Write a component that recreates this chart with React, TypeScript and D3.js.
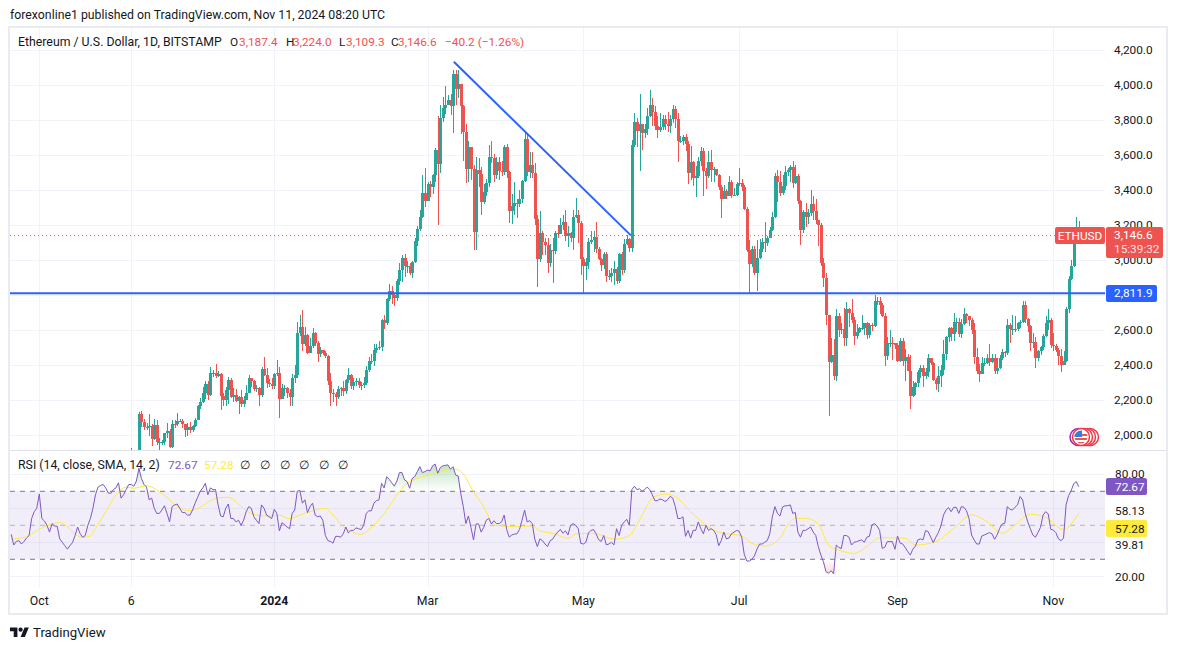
import * as d3 from "d3";
import React from "react";

const WIDTH = 1177;
const HEIGHT = 650;
const FONT = "Roboto, sans-serif";
const UP = "#26a69a";
const DOWN = "#ef5350";
const BLUE = "#2962ff";
const PURPLE = "#7e57c2";
const YELLOW = "#ffeb3b";
const GRID = "#f0f3fa";
const FRAME = "#e8ebf2";

// candles start on 6 Nov 2023, open is the previous close
const closes = [
  1898, 1887, 1887, 2120, 2077, 2050, 2045, 2054, 1978, 2058, 1960, 1960, 1963, 2013, 2022, 1932, 2063, 2062, 2081, 2084, 2063, 2028, 2048, 2029, 2052,
  2088, 2165, 2193, 2242, 2293, 2233, 2358, 2358, 2340, 2352, 2225, 2202, 2260, 2315, 2220, 2228, 2197, 2217, 2177, 2200, 2240, 2325, 2310, 2265, 2272, 2230, 2378, 2345, 2300, 2292, 2281,
  2352, 2355, 2208, 2268, 2268, 2240, 2221, 2330, 2344, 2583, 2619, 2523, 2575, 2472, 2510, 2587, 2528, 2466, 2490, 2470, 2453, 2313, 2240, 2235, 2218, 2267, 2268, 2256, 2316, 2343, 2283,
  2304, 2310, 2289, 2290, 2300, 2372, 2423, 2423, 2486, 2500, 2507, 2660, 2640, 2780, 2825, 2802, 2785, 2880, 2945, 3015, 2970, 2970, 2925, 2990, 3112, 3178, 3245, 3385, 3340,
  3434, 3420, 3490, 3630, 3553, 3815, 3870, 3890, 3915, 3880, 4065, 3980, 4005, 3880, 3735, 3520, 3645, 3520, 3160, 3515, 3492, 3335, 3390, 3440, 3590, 3585, 3490, 3560, 3510, 3505, 3645,
  3505, 3280, 3310, 3330, 3320, 3350, 3455, 3695, 3505, 3545, 3500, 3235, 3005, 3155, 3105, 3085, 2985, 3060, 3055, 3155, 3150, 3200, 3220, 3140, 3155, 3130, 3250, 3260, 3215, 3010,
  2970, 2990, 3105, 3115, 3135, 3065, 3005, 2975, 3035, 2910, 2910, 2930, 2950, 2880, 3035, 2945, 3095, 3120, 3070, 3660, 3790, 3740, 3780, 3725, 3750, 3825, 3890, 3845, 3765, 3745, 3760,
  3810, 3780, 3765, 3810, 3865, 3810, 3680, 3680, 3705, 3665, 3500, 3560, 3470, 3480, 3565, 3625, 3510, 3480, 3560, 3515, 3520, 3490, 3420, 3350, 3395, 3370, 3445, 3375, 3375, 3435,
  3440, 3420, 3295, 3060, 2980, 3065, 2930, 3015, 3065, 3105, 3100, 3130, 3175, 3245, 3480, 3445, 3385, 3425, 3505, 3515, 3535, 3440, 3480, 3340, 3175, 3275, 3245, 3270, 3320, 3280, 3230,
  3200, 2985, 2900, 2685, 2420, 2460, 2340, 2680, 2600, 2610, 2555, 2720, 2700, 2660, 2570, 2590, 2615, 2615, 2640, 2575, 2630, 2625, 2765, 2770, 2745, 2680, 2455, 2530, 2530, 2525, 2515,
  2425, 2540, 2425, 2450, 2370, 2225, 2275, 2300, 2360, 2385, 2340, 2360, 2440, 2415, 2315, 2295, 2340, 2375, 2465, 2560, 2615, 2580, 2650, 2650, 2580, 2635, 2695, 2680, 2660, 2600,
  2450, 2365, 2350, 2415, 2415, 2440, 2420, 2440, 2370, 2385, 2440, 2475, 2470, 2630, 2605, 2610, 2610, 2640, 2645, 2745, 2665, 2625, 2525, 2535, 2440, 2480, 2505, 2570, 2640, 2660, 2515,
  2510, 2490, 2455, 2400, 2425, 2720, 2895, 2965, 3130, 3187.4, 3146.6,
];

const highs = [
  1925, 1898, 1905, 2135, 2140, 2095, 2070, 2120, 2062, 2092, 2090, 1985, 1975, 2015, 2068, 2035, 2090, 2085, 2130, 2095, 2092, 2065, 2070, 2075, 2060,
  2100, 2175, 2215, 2275, 2308, 2310, 2390, 2375, 2405, 2370, 2355, 2240, 2275, 2332, 2330, 2270, 2265, 2225, 2260, 2225, 2285, 2345, 2330, 2315, 2290, 2275, 2390, 2445, 2385, 2320, 2325,
  2355, 2430, 2390, 2295, 2285, 2275, 2265, 2350, 2400, 2645, 2690, 2717, 2620, 2580, 2555, 2615, 2590, 2540, 2505, 2490, 2480, 2460, 2355, 2265, 2245, 2280, 2275, 2310, 2320, 2385, 2350,
  2325, 2325, 2325, 2305, 2335, 2395, 2445, 2465, 2520, 2520, 2538, 2665, 2685, 2785, 2865, 2855, 2805, 2895, 2985, 3030, 3035, 2995, 2985, 2998, 3125, 3195, 3290, 3490, 3525,
  3445, 3455, 3495, 3640, 3825, 3890, 3935, 3998, 3945, 3950, 4085, 4090, 4085, 4010, 3885, 3780, 3680, 3650, 3545, 3590, 3585, 3535, 3435, 3465, 3660, 3680, 3610, 3590, 3590, 3570, 3660,
  3665, 3510, 3380, 3445, 3350, 3400, 3460, 3730, 3720, 3620, 3620, 3555, 3260, 3280, 3170, 3125, 3125, 3095, 3125, 3165, 3200, 3240, 3260, 3290, 3195, 3160, 3285, 3355, 3290, 3225,
  3020, 3015, 3125, 3170, 3170, 3220, 3075, 3015, 3050, 3050, 2945, 2955, 2995, 2960, 3040, 3045, 3120, 3145, 3125, 3690, 3840, 3815, 3950, 3760, 3780, 3870, 3975, 3930, 3880, 3825, 3840,
  3830, 3830, 3850, 3830, 3890, 3880, 3840, 3710, 3715, 3720, 3680, 3655, 3565, 3540, 3590, 3650, 3640, 3530, 3625, 3630, 3535, 3510, 3495, 3430, 3430, 3410, 3480, 3460, 3415, 3445,
  3525, 3465, 3430, 3305, 3115, 3080, 3080, 3115, 3120, 3125, 3220, 3140, 3190, 3275, 3500, 3515, 3510, 3490, 3540, 3530, 3545, 3565, 3545, 3495, 3345, 3285, 3330, 3295, 3400, 3365, 3350,
  3230, 3215, 3015, 2925, 2690, 2555, 2550, 2720, 2700, 2640, 2725, 2760, 2730, 2780, 2675, 2635, 2620, 2690, 2640, 2645, 2640, 2640, 2800, 2790, 2790, 2755, 2700, 2560, 2600, 2560, 2530,
  2530, 2555, 2555, 2495, 2465, 2460, 2310, 2305, 2375, 2400, 2400, 2385, 2465, 2425, 2420, 2330, 2395, 2400, 2545, 2565, 2620, 2620, 2700, 2670, 2670, 2665, 2725, 2700, 2680, 2670,
  2640, 2500, 2405, 2445, 2440, 2465, 2520, 2465, 2465, 2440, 2460, 2495, 2480, 2665, 2640, 2690, 2680, 2650, 2660, 2770, 2765, 2670, 2630, 2585, 2560, 2490, 2510, 2580, 2680, 2720, 2670,
  2585, 2520, 2500, 2495, 2480, 2735, 2910, 3000, 3155, 3250, 3224,
];

const lows = [
  1870, 1860, 1870, 1880, 2045, 2030, 2030, 1995, 1938, 1972, 1943, 1918, 1945, 1945, 1985, 1925, 1925, 2040, 2055, 2075, 2040, 1990, 1995, 2015, 2020,
  2050, 2085, 2150, 2185, 2205, 2200, 2225, 2335, 2330, 2335, 2147, 2170, 2165, 2180, 2215, 2190, 2190, 2120, 2160, 2160, 2200, 2240, 2275, 2255, 2250, 2165, 2220, 2340, 2270, 2275, 2265,
  2265, 2340, 2100, 2205, 2225, 2215, 2165, 2165, 2300, 2330, 2570, 2480, 2512, 2465, 2470, 2500, 2510, 2420, 2445, 2458, 2440, 2290, 2170, 2190, 2170, 2205, 2225, 2225, 2235, 2300, 2265,
  2260, 2280, 2270, 2260, 2270, 2290, 2360, 2405, 2395, 2470, 2485, 2480, 2605, 2630, 2770, 2750, 2740, 2770, 2860, 2875, 2905, 2925, 2915, 2900, 2985, 3080, 3170, 3240, 3305,
  3340, 3360, 3380, 3445, 3200, 3500, 3790, 3835, 3885, 3830, 3730, 3885, 3930, 3720, 3570, 3440, 3450, 3460, 3060, 3060, 3420, 3260, 3320, 3365, 3420, 3555, 3450, 3465, 3460, 3480, 3490,
  3470, 3215, 3210, 3260, 3240, 3305, 3330, 3445, 3480, 3470, 3470, 3200, 2850, 2990, 3030, 3030, 2925, 2960, 2870, 3035, 3130, 3150, 3175, 3110, 3075, 3105, 3060, 3240, 3100, 2915,
  2815, 2885, 2950, 3095, 3045, 3040, 3000, 2940, 2950, 2875, 2890, 2875, 2860, 2865, 2870, 2915, 2930, 3090, 3050, 3045, 3650, 3650, 3510, 3630, 3700, 3715, 3820, 3770, 3745, 3700, 3735,
  3745, 3745, 3735, 3725, 3785, 3755, 3560, 3670, 3660, 3625, 3435, 3460, 3425, 3360, 3470, 3540, 3365, 3405, 3470, 3450, 3445, 3480, 3400, 3240, 3360, 3350, 3365, 3355, 3370, 3365,
  3425, 3395, 3285, 3050, 2815, 2960, 2915, 2825, 3005, 3050, 3050, 3080, 3125, 3170, 3240, 3335, 3370, 3375, 3400, 3480, 3450, 3415, 3435, 3320, 3088, 3155, 3190, 3210, 3255, 3230, 3205,
  3080, 2965, 2850, 2630, 2111, 2415, 2315, 2310, 2560, 2580, 2510, 2510, 2620, 2640, 2515, 2550, 2585, 2600, 2575, 2550, 2555, 2595, 2620, 2745, 2695, 2675, 2396, 2430, 2505, 2430, 2495,
  2420, 2420, 2395, 2310, 2365, 2150, 2220, 2230, 2275, 2330, 2275, 2320, 2335, 2400, 2310, 2260, 2250, 2275, 2345, 2430, 2535, 2540, 2540, 2590, 2560, 2555, 2630, 2640, 2625, 2580,
  2410, 2350, 2305, 2350, 2395, 2405, 2395, 2415, 2350, 2350, 2380, 2430, 2445, 2460, 2530, 2575, 2590, 2595, 2615, 2640, 2640, 2590, 2480, 2500, 2385, 2425, 2460, 2490, 2560, 2600, 2500,
  2480, 2475, 2400, 2364, 2400, 2420, 2700, 2890, 2960, 3120, 3109.3,
];

// RSI starts on 20 Sep 2023
const rsiValues = [
  44.7, 38.4, 40.5, 41, 39, 40.5, 42.5, 44, 54, 58, 60,
  68.4, 54, 52.5, 50, 46, 51, 49.5, 49.5, 42, 40, 38, 36, 38, 39.8, 44, 49, 45, 43, 44, 50, 54, 60, 68, 72.5, 73.5, 74, 72, 69, 68.8, 71, 72,
  75, 66, 68, 71, 74, 74, 73, 76, 83.5, 77.6, 74, 72.5, 65, 66, 60, 57, 57, 59, 61.5, 57, 52, 61, 62, 62.5, 60, 57.5, 57.5, 56, 56, 59,
  63, 66.5, 70, 72, 74.7, 68, 72, 71, 71, 62, 55.5, 55, 60, 62.5, 54, 54, 52, 53, 50, 53, 58, 61, 60, 55, 53, 51, 62, 60, 56, 55, 54,
  59.4, 57, 46.7, 51.5, 50.5, 49, 48, 57, 59, 70, 70.5, 63, 65, 57.5, 61, 63, 56, 55, 55.5, 53, 44, 41, 40.5, 39.5, 43.5, 43.5, 43, 45, 49, 45.5, 47,
  47, 48.5, 48, 47.5, 50, 57, 58.5, 58.5, 63, 64.5, 65, 74.7, 72, 78.6, 77, 75, 73, 76, 81, 81, 76.7, 75.7, 71.8, 77.6, 78.6, 81.6, 84.5, 81, 81.6,
  82.5, 82, 85, 86, 80.6, 84, 85, 85.3, 85.5, 83, 84.5, 79.6, 79, 68.8, 61, 51, 55.5, 48.8, 41.4, 50.8, 50.8, 46, 48.8, 53, 54, 50.8, 52.7, 51, 51, 52, 56,
  47.5, 43, 44.3, 44.8, 45, 47.5, 53, 59, 52, 52.7, 51, 41.8, 37.5, 42, 41, 39, 37.5, 41, 41.8, 44.3, 46, 47.6, 45.3, 46.7, 44.3, 50, 51, 50, 48, 39.4,
  39, 40, 45.5, 47, 47.5, 45, 41.5, 40.5, 44, 38.5, 39, 40, 38.5, 48, 44, 50, 52, 53.5, 50, 71, 73, 71, 71.5, 70, 71, 72.5, 71, 68, 64.5, 64.5, 65.5,
  65, 64, 65, 67, 66, 61, 54, 54, 55, 43.5, 47, 42.5, 47, 47, 52, 48, 45, 50, 47, 48, 47, 44.5, 38, 41, 46, 42, 42.5, 45, 46, 47,
  46.5, 43, 33, 29, 29, 30, 32, 36, 39, 39, 40, 41, 45, 55, 61, 57, 55.5, 60.8, 61.5, 61.5, 62, 57, 57.5, 46, 43, 47, 47, 48, 49, 46, 44,
  37.5, 32.5, 28.6, 22.7, 21.8, 23.3, 21.4, 38.4, 37, 36.3, 44, 44, 43, 38.4, 40, 40.4, 41, 41.4, 40, 43, 43.5, 50.2, 51, 49.6, 47, 36.5, 37, 40.4, 40.4, 40.4, 35.9,
  43.7, 39.6, 39, 37, 34.5, 32.5, 35.9, 37.8, 41.4, 42, 41.4, 46.9, 46.3, 43, 39.8, 43, 45.7, 49.6, 56, 59, 60.4, 58, 60.6, 60.6, 57, 61, 60.6, 58.6, 54, 44.3,
  41.4, 39, 39, 43.7, 44.3, 45, 45.7, 45, 41.8, 44.3, 48.2, 50.8, 51.2, 61, 59.4, 59, 60.6, 62, 66.9, 64.9, 57, 52, 48, 44.3, 43, 45.7, 48.8, 56, 58, 56.7, 47.6,
  47.2, 45.7, 42, 41, 42.4, 62, 67.5, 70.4, 74.5, 75.7, 72.67,
];

// yellow smoothing line, read at its bends: day offset from 1 Oct 2023, value
const smaDays = [
  -11, -8, -4, 0, 4, 8, 11, 14, 17, 20, 22, 26, 30, 34, 37, 42, 46, 50, 54, 59, 63, 67, 71, 74, 77, 81, 85, 90, 94, 98, 102, 106, 112, 115, 119, 123, 126, 129, 135, 141,
  144, 148, 154, 158, 163, 166, 170, 174, 178, 186, 193, 196, 201, 207, 210, 217, 225, 231, 235, 240, 245, 249, 255, 261, 266, 275, 279, 284, 290,
  293, 296, 300, 305, 309, 314, 319, 324, 329, 339, 343, 351, 358, 365, 371, 377, 382, 388, 394, 401, 407,
];
const smaValues = [
  41.8, 42.4, 43.9, 47.8, 50.2, 51.6, 49.2, 44.9, 42.9, 43.7, 48.2, 58, 67.8, 72.4, 71.8, 73.3, 70.8, 66.3, 61, 58.6, 60.6, 64.5, 66.3, 66.5, 63.9, 58.6, 56, 55.5, 56, 53.9, 56, 58, 60, 56, 49.2, 45.9, 44.7, 47.3, 57, 69.8,
  74.7, 77.6, 80.2, 82, 83, 80.2, 69.8, 61, 50.2, 49.2, 49.6, 46.7, 45.3, 42.4, 44.9, 45.3, 41.8, 43.9, 53.1, 65.9, 68.4, 66.9, 58, 50.2, 45.9, 43.7, 39.4, 37.8, 42.4,
  50.2, 54.1, 54.1, 50.8, 38.4, 34.9, 33.5, 37.5, 42.7, 42.4, 38.4, 40.4, 48.2, 56.1, 52.2, 45.3, 50.2, 56.5, 54.7, 47.6, 57.28,
];

const priceTicks = [4200, 4000, 3800, 3600, 3400, 3200, 3000, 2800, 2600, 2400, 2200, 2000];
const rsiGrid = [80, 60, 40, 20];
const rsiLabels = [
  { text: "80.00", y: 474 },
  { text: "58.13", y: 511 },
  { text: "39.81", y: 545 },
  { text: "20.00", y: 577 },
];
const timeTicks = [
  { text: "Oct", date: [2023, 9, 1] },
  { text: "6", date: [2023, 10, 6] },
  { text: "2024", date: [2024, 0, 1], bold: true },
  { text: "Mar", date: [2024, 2, 1] },
  { text: "May", date: [2024, 4, 1] },
  { text: "Jul", date: [2024, 6, 1] },
  { text: "Sep", date: [2024, 8, 1] },
  { text: "Nov", date: [2024, 10, 1] },
];
const trendDays = [162.3, 231.5];
const trendPrices = [4135, 3144];
const supportLevel = 2811.9;
const lastPrice = 3146.6;
const rsiLast = 72.67;
const smaLast = 57.28;

const dayOne = new Date(Date.UTC(2023, 9, 1));
const dayDate = (d: number) => new Date(dayOne.getTime() + d * 86400000);

const x = d3
  .scaleUtc()
  .domain([dayOne, new Date(Date.UTC(2024, 10, 1))])
  .range([39.3, 1053.3]);
const y = d3.scaleLinear().domain([2000, 4200]).range([435.3, 50.3]);
const yRsi = d3.scaleLinear().domain([20, 80]).range([576.3, 474.3]);

const candles = closes.map((c, i) => ({
  date: dayDate(36 + i),
  open: i === 0 ? 1890 : closes[i - 1],
  close: c,
  high: highs[i],
  low: lows[i],
}));
const rsiData = rsiValues.map((v, i) => ({ date: dayDate(i - 11), v }));
const smaData = smaValues.map((v, i) => ({ date: dayDate(smaDays[i]), v }));

const rsiLine = d3
  .line<{ date: Date; v: number }>()
  .x((d) => x(d.date))
  .y((d) => yRsi(d.v));
const smaLine = d3
  .line<{ date: Date; v: number }>()
  .x((d) => x(d.date))
  .y((d) => yRsi(d.v))
  .curve(d3.curveMonotoneX);
const areaTo = (level: number) =>
  d3
    .area<{ date: Date; v: number }>()
    .x((d) => x(d.date))
    .y0(yRsi(level))
    .y1((d) => yRsi(d.v));

const App = () => {
  const fmt = d3.format(",.1f");
  const label = { fontFamily: FONT, fontSize: 12.3, fill: "#131722" };
  const axisLabel = { fontFamily: FONT, fontSize: 11.8, fill: "#131722" };
  const ohlc = [
    { k: "O", kx: 230, v: "3,187.4", vx: 239 },
    { k: "H", kx: 286, v: "3,224.0", vx: 293 },
    { k: "L", kx: 339, v: "3,109.3", vx: 346 },
    { k: "C", kx: 391, v: "3,146.6", vx: 398 },
  ];
  return (
    <svg
      width={WIDTH}
      height={HEIGHT}
      style={{ position: "absolute", left: 0, top: 0, background: "#fff" }}
    >
      <defs>
        <clipPath id="mainClip">
          <rect x={10} y={28} width={1095} height={422} />
        </clipPath>
        <clipPath id="rsiClip">
          <rect x={10} y={451} width={1095} height={136} />
        </clipPath>
        <clipPath id="overClip">
          <rect x={10} y={451} width={1095} height={yRsi(70) - 451} />
        </clipPath>
        <clipPath id="underClip">
          <rect x={10} y={yRsi(30)} width={1095} height={30} />
        </clipPath>
        <clipPath id="flagClip">
          <circle cx={1081} cy={437} r={6.5} />
        </clipPath>
        <linearGradient id="overFill" x1="0" y1={yRsi(86)} x2="0" y2={yRsi(70)} gradientUnits="userSpaceOnUse">
          <stop offset="0" stopColor="#4caf50" stopOpacity={0.35} />
          <stop offset="1" stopColor="#4caf50" stopOpacity={0} />
        </linearGradient>
        <linearGradient id="underFill" x1="0" y1={yRsi(30)} x2="0" y2={yRsi(20)} gradientUnits="userSpaceOnUse">
          <stop offset="0" stopColor="#f23645" stopOpacity={0} />
          <stop offset="1" stopColor="#f23645" stopOpacity={0.25} />
        </linearGradient>
      </defs>

      <text x={10} y={19} {...label}>
        forexonline1 published on TradingView.com, Nov 11, 2024 08:20 UTC
      </text>

      {/* frame and pane divider */}
      <rect x={9} y={27} width={1158} height={587} fill="none" stroke={FRAME} strokeWidth={2} />
      <line x1={10} x2={1166} y1={450.5} y2={450.5} stroke="#e0e3eb" />

      {/* grid */}
      <g shapeRendering="crispEdges" stroke={GRID}>
        {timeTicks.map((t) => {
          const gx = Math.round(x(new Date(Date.UTC(t.date[0], t.date[1], t.date[2]))));
          return (
            <g key={t.text}>
              <line x1={gx} x2={gx} y1={28} y2={450} />
              <line x1={gx} x2={gx} y1={451} y2={587} />
            </g>
          );
        })}
        {priceTicks.map((p) => (
          <line key={p} x1={10} x2={1105} y1={Math.round(y(p))} y2={Math.round(y(p))} />
        ))}
        {rsiGrid.map((p) => (
          <line key={p} x1={10} x2={1105} y1={Math.round(yRsi(p))} y2={Math.round(yRsi(p))} />
        ))}
      </g>

      {/* candles */}
      <g clipPath="url(#mainClip)" shapeRendering="crispEdges">
        {candles.map((d) => {
          const cx = Math.round(x(d.date));
          const color = d.close >= d.open ? UP : DOWN;
          const top = Math.round(y(Math.max(d.open, d.close)));
          const bottom = Math.round(y(Math.min(d.open, d.close)));
          return (
            <g key={d.date.getTime()} fill={color}>
              <rect x={cx} y={y(d.high)} width={1} height={y(d.low) - y(d.high)} />
              <rect x={cx - 1} y={top} width={3} height={Math.max(1, bottom - top)} />
            </g>
          );
        })}
      </g>

      {/* drawn lines */}
      <g clipPath="url(#mainClip)">
        <line
          x1={10}
          x2={1105}
          y1={y(lastPrice) + 1}
          y2={y(lastPrice) + 1}
          stroke={DOWN}
          strokeDasharray="1 3"
        />
        <line x1={10} x2={1105} y1={y(supportLevel)} y2={y(supportLevel)} stroke={BLUE} strokeWidth={2} />
        <line
          x1={x(dayDate(trendDays[0]))}
          x2={x(dayDate(trendDays[1]))}
          y1={y(trendPrices[0])}
          y2={y(trendPrices[1])}
          stroke={BLUE}
          strokeWidth={2}
        />
      </g>

      {/* flag badge */}
      <g fill="#fff">
        <circle cx={1078.5} cy={437} r={8.5} stroke="#9c27b0" strokeWidth={1.5} />
        <circle cx={1090} cy={437} r={8.5} stroke="#f23645" strokeWidth={1.5} />
        <circle cx={1087} cy={437} r={8.5} stroke="#f23645" strokeWidth={1.5} />
        <circle cx={1084} cy={437} r={8.5} stroke="#f23645" strokeWidth={1.5} />
        <circle cx={1081} cy={437} r={8.5} stroke="#f23645" strokeWidth={1.5} />
        <g clipPath="url(#flagClip)">
          <rect x={1074} y={430} width={14} height={14} fill="#fff" />
          <rect x={1074} y={434} width={14} height={2} fill="#ef5350" />
          <rect x={1074} y={438} width={14} height={2} fill="#ef5350" />
          <rect x={1074} y={442} width={14} height={2} fill="#ef5350" />
          <rect x={1074} y={430} width={8} height={7} fill="#2f7fe0" />
        </g>
      </g>

      {/* legend */}
      <text x={18} y={46} {...label}>
        Ethereum / U.S. Dollar, 1D, BITSTAMP
      </text>
      {ohlc.map((o) => (
        <g key={o.k} fontFamily={FONT} fontSize={11.8}>
          <text x={o.kx} y={46} fill="#131722">
            {o.k}
          </text>
          <text x={o.vx} y={46} fill={DOWN}>
            {o.v}
          </text>
        </g>
      ))}
      <text x={445} y={46} fontFamily={FONT} fontSize={11.8} fill={DOWN}>
        −40.2 (−1.26%)
      </text>

      {/* price axis */}
      {priceTicks.map((p) => (
        <text key={p} x={1114} y={y(p) + 4} {...axisLabel}>
          {fmt(p)}
        </text>
      ))}
      <rect x={1055} y={227} width={50} height={17} rx={2} fill={DOWN} />
      <text x={1080} y={240} textAnchor="middle" {...axisLabel} fill="#fff">
        ETHUSD
      </text>
      <rect x={1106} y={227} width={57} height={31} rx={2} fill={DOWN} />
      <text x={1114} y={239} {...axisLabel} fill="#fff">
        {fmt(lastPrice)}
      </text>
      <text x={1114} y={253} {...axisLabel} fill="#fde0e0">
        15:39:32
      </text>
      <rect x={1106} y={285} width={51} height={17} rx={2} fill={BLUE} />
      <text x={1114} y={297} {...axisLabel} fill="#fff">
        {fmt(supportLevel)}
      </text>

      {/* RSI pane */}
      <rect
        x={10}
        y={yRsi(70)}
        width={1095}
        height={yRsi(30) - yRsi(70)}
        fill={PURPLE}
        fillOpacity={0.1}
      />
      <g clipPath="url(#rsiClip)">
        <g clipPath="url(#overClip)">
          <path d={areaTo(70)(rsiData) ?? ""} fill="url(#overFill)" />
        </g>
        <g clipPath="url(#underClip)">
          <path d={areaTo(30)(rsiData) ?? ""} fill="url(#underFill)" />
        </g>
        <line x1={10} x2={1105} y1={yRsi(70)} y2={yRsi(70)} stroke="#787b86" strokeDasharray="5 5" />
        <line
          x1={10}
          x2={1105}
          y1={yRsi(50)}
          y2={yRsi(50)}
          stroke="#787b86"
          strokeOpacity={0.5}
          strokeDasharray="5 5"
        />
        <line x1={10} x2={1105} y1={yRsi(30)} y2={yRsi(30)} stroke="#787b86" strokeDasharray="5 5" />
        <path d={smaLine(smaData) ?? ""} fill="none" stroke={YELLOW} strokeWidth={1} />
        <path d={rsiLine(rsiData) ?? ""} fill="none" stroke={PURPLE} strokeWidth={1} />
      </g>

      <text x={18} y={469} {...label}>
        RSI (14, close, SMA, 14, 2)
      </text>
      <text x={168} y={469} fontFamily={FONT} fontSize={11.8} fill={PURPLE}>
        72.67
      </text>
      <text x={204} y={469} fontFamily={FONT} fontSize={11.8} fill={YELLOW}>
        57.28
      </text>
      {[245, 265, 285, 304, 324, 343].map((nx) => (
        <text key={nx} x={nx} y={469} textAnchor="middle" {...label}>
          ∅
        </text>
      ))}

      {rsiLabels.map((l) => (
        <text key={l.text} x={1115} y={l.y + 4} {...axisLabel}>
          {l.text}
        </text>
      ))}
      <rect x={1106} y={478} width={41} height={17} rx={2} fill={PURPLE} />
      <text x={1115} y={491} {...axisLabel} fill="#fff">
        {rsiLast}
      </text>
      <rect x={1106} y={520} width={41} height={17} rx={2} fill={YELLOW} />
      <text x={1115} y={533} {...axisLabel}>
        {smaLast}
      </text>

      {/* time axis */}
      {timeTicks.map((t) => (
        <text
          key={t.text}
          x={x(new Date(Date.UTC(t.date[0], t.date[1], t.date[2])))}
          y={605}
          textAnchor="middle"
          fontWeight={t.bold ? 700 : 400}
          {...label}
        >
          {t.text}
        </text>
      ))}

      {/* footer logo */}
      <g transform="translate(10,625.4) scale(0.53)" fill="#131722">
        <path d="M14 22H7V11H0V4h14v18zM28 22h-8l7.5-18h8L28 22z" />
        <circle cx={20} cy={8} r={4} />
      </g>
      <text x={33} y={637} fontFamily={FONT} fontSize={13.2} fill="#131722">
        TradingView
      </text>
    </svg>
  );
};

export default App;
